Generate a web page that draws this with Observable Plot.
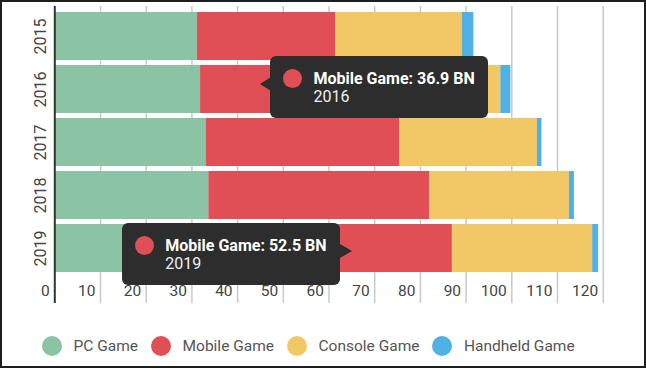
<!DOCTYPE html>
<html><head><meta charset="utf-8">
<script src="https://cdn.jsdelivr.net/npm/d3@7"></script>
<script src="https://cdn.jsdelivr.net/npm/@observablehq/plot@0.6"></script>
<style>
body{margin:0;background:#fff;font-family:Roboto,sans-serif}
#wrap{position:relative;width:646px;height:369px;overflow:hidden;background:#fff}
#chart{position:absolute;left:0;top:0}
#frame{position:absolute;left:0;top:0;width:646px;height:368px;box-sizing:border-box;border:2px solid #1e1e1e;pointer-events:none}
.tip{position:absolute;background:#2d2d2d;border-radius:6px;color:#fff;box-sizing:border-box}
.tip .dot{position:absolute;width:19px;height:19px;border-radius:50%;background:#e04f55}
.tip .l1{position:absolute;font-weight:700;font-size:16px;line-height:18px;white-space:nowrap}
.tip .l2{position:absolute;font-size:16px;line-height:18px;color:#f0f0f0}
.arrow{position:absolute;width:0;height:0;border-top:7px solid transparent;border-bottom:7px solid transparent}
#legend{position:absolute;left:42px;top:336px;display:flex;align-items:center;font-size:15.5px;color:#555;white-space:nowrap}
#legend .item{display:flex;align-items:center;margin-right:13px}
#legend .sw{width:20px;height:20px;border-radius:50%;margin-right:11.5px}
</style></head>
<body>
<div id="wrap"><div id="chart"></div><div id="legend"></div><div id="frame"></div></div>
<script>
const years = ["2015", "2016", "2017", "2018", "2019"];
const series = ["PC Game", "Mobile Game", "Console Game", "Handheld Game"];
const colors = ["#8ac4a5", "#e04f55", "#f1c865", "#4fb1e4"];
const pc = [31.2, 31.9, 33.1, 33.7, 34.5];
const mobile = [30.3, 36.9, 42.4, 48.4, 52.5];
const consoleG = [27.7, 28.8, 30.1, 30.5, 30.7];
const handheld = [2.5, 2.2, 1.0, 1.1, 1.3];
const xTicks = [0, 10, 20, 30, 40, 50, 60, 70, 80, 90, 100, 110, 120];
const tooltips = [
  {year: "2016", series: "Mobile Game", value: 36.9, side: "right", at: 45.0, dy: 19},
  {year: "2019", series: "Mobile Game", value: 52.5, side: "left", at: 65.1, dy: 27}
];

const columns = [pc, mobile, consoleG, handheld];
const data = [];
years.forEach((y, i) => series.forEach((s, j) => data.push({year: y, series: s, value: columns[j][i]})));

const plot = Plot.plot({
  width: 646, height: 320,
  marginLeft: 54.3, marginRight: 43.3, marginTop: 6, marginBottom: 17,
  style: {fontFamily: "Roboto, sans-serif", background: "transparent"},
  x: {domain: [0, 120], axis: null},
  y: {domain: years, range: [5.65, 278.5], padding: 0.1, axis: null},
  color: {domain: series, range: colors},
  marks: [
    Plot.ruleX(xTicks.filter(d => d > 0), {stroke: "#c9c9c9", strokeWidth: 1.5}),
    Plot.barX(data, Plot.stackX({x: "value", y: "year", fill: "series"})),
    Plot.ruleX([0], {stroke: "#333", strokeWidth: 2}),
    Plot.text(xTicks, {x: d => d, text: d => String(d), frameAnchor: "bottom", textAnchor: "end", dx: -5, dy: -8, fontSize: 15.5, fill: "#444"}),
    Plot.text(years, {y: d => d, text: d => d, frameAnchor: "left", textAnchor: "middle", dx: -14, rotate: -90, fontSize: 16, fill: "#444"})
  ]
});
document.getElementById("chart").appendChild(plot);

const xs = plot.scale("x"), ys = plot.scale("y");
const wrap = document.getElementById("wrap");
const W = 218, H = 62;
tooltips.forEach(t => {
  const tipX = xs.apply(t.at), tipY = ys.apply(t.year) + t.dy;
  const box = document.createElement("div");
  box.className = "tip";
  const left = t.side === "right" ? tipX + 10.5 : tipX - 11.5 - W;
  box.style.left = left + "px";
  box.style.top = (tipY - 28.5) + "px";
  box.style.width = W + "px";
  box.style.height = H + "px";
  const ci = colors[series.indexOf(t.series)];
  box.innerHTML = `<div class="dot" style="left:13px;top:13.5px;background:${ci}"></div>` +
    `<div class="l1" style="left:43px;top:14px">${t.series}: ${t.value} BN</div>` +
    `<div class="l2" style="left:43px;top:32px">${t.year}</div>`;
  wrap.appendChild(box);
  const ar = document.createElement("div");
  ar.className = "arrow";
  ar.style.top = (tipY - 7) + "px";
  if (t.side === "right") {
    ar.style.left = (tipX) + "px";
    ar.style.borderRight = "11px solid #2d2d2d";
  } else {
    ar.style.left = (tipX - 12) + "px";
    ar.style.borderLeft = "12px solid #2d2d2d";
  }
  wrap.appendChild(ar);
});

const legend = document.getElementById("legend");
series.forEach((s, i) => {
  const it = document.createElement("div");
  it.className = "item";
  it.innerHTML = `<span class="sw" style="background:${colors[i]}"></span><span>${s}</span>`;
  legend.appendChild(it);
});
</script>
</body></html>
